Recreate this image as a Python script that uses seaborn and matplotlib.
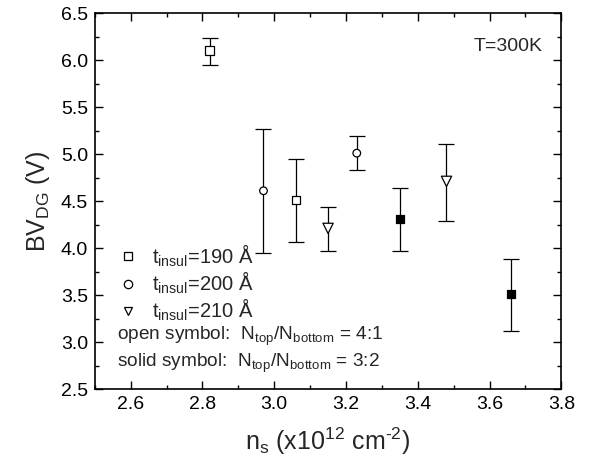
import numpy as np
import pandas as pd
import matplotlib
matplotlib.use('Agg')
import matplotlib.pyplot as plt
from matplotlib.lines import Line2D
from matplotlib.ticker import MultipleLocator, FormatStrFormatter
import seaborn as sns

# ------ Data ------
ns = [2.82, 2.97, 3.06, 3.15, 3.23, 3.35, 3.48, 3.66]
bv = [6.10, 4.61, 4.51, 4.21, 5.01, 4.31, 4.71, 3.51]
bv_low = [5.95, 3.95, 4.06, 3.97, 4.83, 3.97, 4.29, 3.12]
bv_high = [6.23, 5.27, 4.95, 4.44, 5.19, 4.64, 5.11, 3.88]
thickness = ['190', '200', '190', '210', '200', '190', '210', '190']
fill = ['open', 'open', 'open', 'open', 'open', 'solid', 'open', 'solid']

df = pd.DataFrame({
    'ns': ns, 'bv': bv, 'low': bv_low, 'high': bv_high,
    'thickness': thickness, 'fill': fill,
})

marker_map = {'190': 's', '200': 'o', '210': 'v'}
size_map = {'190': 36, '200': 30, '210': 55}
fill_map = {'open': 'white', 'solid': 'black'}

sns.set_style('ticks')
plt.rcParams['font.family'] = ['Liberation Sans', 'DejaVu Sans']
plt.rcParams['mathtext.fontset'] = 'custom'
plt.rcParams['mathtext.rm'] = 'Liberation Sans'
plt.rcParams['mathtext.it'] = 'Liberation Sans:italic'
plt.rcParams['mathtext.bf'] = 'Liberation Sans:bold'

fig, ax = plt.subplots(figsize=(5.89, 4.65), dpi=100)
fig.subplots_adjust(left=0.161, right=0.953, top=0.972, bottom=0.163)

# error bars first, markers on top
yerr = np.array([df['bv'] - df['low'], df['high'] - df['bv']])
ax.errorbar(df['ns'], df['bv'], yerr=yerr, fmt='none', ecolor='black',
            elinewidth=0.9, capsize=6, capthick=0.9, zorder=2)

for t, sub in df.groupby('thickness'):
    sns.scatterplot(data=sub, x='ns', y='bv', hue='fill', palette=fill_map,
                    marker=marker_map[t], s=size_map[t], edgecolor='black',
                    linewidth=0.9, legend=False, ax=ax, zorder=3)

ax.set_xlim(2.5, 3.8)
ax.set_ylim(2.5, 6.5)
ax.xaxis.set_major_locator(MultipleLocator(0.2))
ax.xaxis.set_minor_locator(MultipleLocator(0.1))
ax.yaxis.set_major_locator(MultipleLocator(0.5))
ax.yaxis.set_minor_locator(MultipleLocator(0.25))
ax.xaxis.set_major_formatter(FormatStrFormatter('%.1f'))
ax.yaxis.set_major_formatter(FormatStrFormatter('%.1f'))
ax.tick_params(which='both', direction='in', top=True, right=True,
               labelsize=14, width=1.0, color='black', labelcolor='black')
ax.tick_params(which='major', length=6, pad=5)
ax.tick_params(which='minor', length=3)
for s in ax.spines.values():
    s.set_linewidth(1.2)
    s.set_color('black')

ax.set_xlabel(r'n$_\mathrm{s}$ (x10$^{12}$ cm$^{\text{-2}}$)', fontsize=18, labelpad=9)
ax.set_ylabel(r'BV$_\mathrm{DG}$ (V)', fontsize=18, labelpad=6)

ax.text(0.959, 0.91, 'T=300K', transform=ax.transAxes, ha='right',
        va='center', fontsize=14)

handles = [Line2D([], [], linestyle='none', marker=marker_map[t],
                  markerfacecolor='white', markeredgecolor='black',
                  markersize=6, markeredgewidth=0.9)
           for t in ['190', '200', '210']]
labels = [r't$_\mathrm{insul}$=%s Å' % t for t in ['190', '200', '210']]
ax.legend(handles, labels, loc='upper left', bbox_to_anchor=(0.045, 0.39),
          frameon=False, fontsize=14.5, handletextpad=0.6, labelspacing=0.05,
          handlelength=1.2, borderaxespad=0, borderpad=0)

ax.text(0.047, 0.14, r'open symbol:  N$_\mathrm{top}$/N$_\mathrm{bottom}$ = 4:1',
        transform=ax.transAxes, fontsize=13.7, va='center')
ax.text(0.047, 0.069, r'solid symbol:  N$_\mathrm{top}$/N$_\mathrm{bottom}$ = 3:2',
        transform=ax.transAxes, fontsize=13.7, va='center')

fig.savefig('out.png', dpi=100)
